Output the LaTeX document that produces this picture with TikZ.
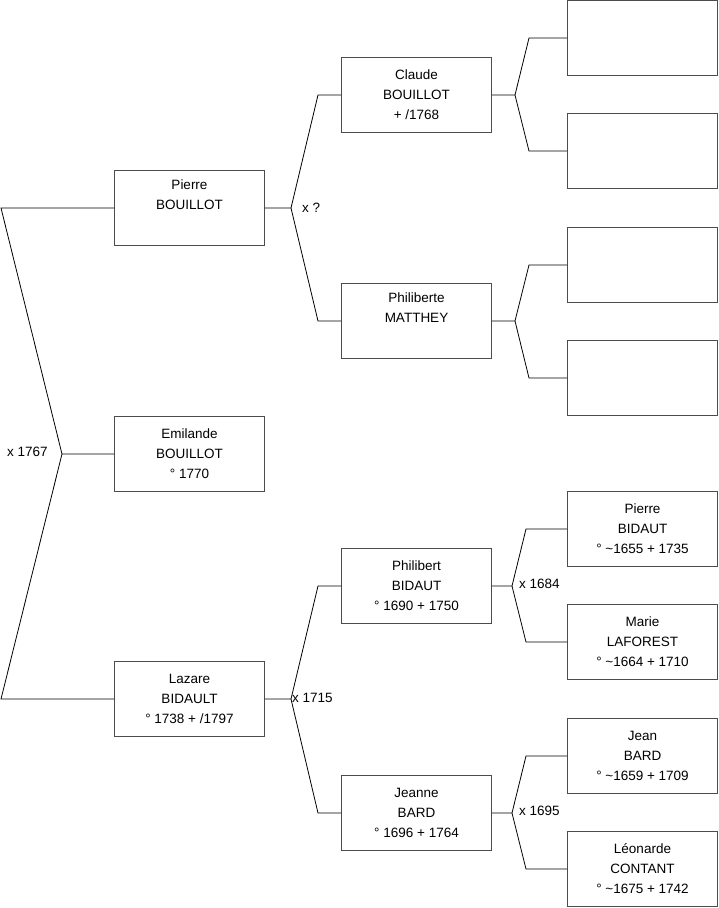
\documentclass[tikz,border=0pt]{standalone}
\usepackage{fontspec}
\setmainfont{Liberation Sans}
\usetikzlibrary{calc}

\begin{document}
\begin{tikzpicture}[
  x=1pt, y=-1pt,
  every node/.style={font=\fontsize{13.5}{20}\selectfont},
  person/.style={rectangle, draw=black!70, line width=0.9pt, minimum width=150, minimum height=75, align=center, inner sep=0pt},
  marriage/.style={anchor=west, inner sep=0pt},
  link/.style={draw, line width=0.8pt}
]
\useasboundingbox (0,0) rectangle (719,908);
% generation 1
\node[person] (pierre) at (189.5,208) {Pierre\\BOUILLOT\\\strut};
\node[person] (emilande) at (189.5,454) {Emilande\\BOUILLOT\\° 1770};
\node[person] (lazare) at (189.5,699) {Lazare\\BIDAULT\\° 1738 + /1797};
% generation 2
\node[person] (claude) at (416.5,95) {Claude\\BOUILLOT\\+ /1768};
\node[person] (philiberte) at (416.5,321) {Philiberte\\MATTHEY\\\strut};
\node[person] (philibert) at (416.5,586) {Philibert\\BIDAUT\\° 1690 + 1750};
\node[person] (jeanne) at (416.5,813) {Jeanne\\BARD\\° 1696 + 1764};
% generation 3
\node[person] (empty1) at (642.5,38) {};
\node[person] (empty2) at (642.5,151) {};
\node[person] (empty3) at (642.5,265) {};
\node[person] (empty4) at (642.5,378) {};
\node[person] (pierreb) at (642.5,529) {Pierre\\BIDAUT\\° \textasciitilde1655 + 1735};
\node[person] (marie) at (642.5,642) {Marie\\LAFOREST\\° \textasciitilde1664 + 1710};
\node[person] (jean) at (642.5,756) {Jean\\BARD\\° \textasciitilde1659 + 1709};
\node[person] (leonarde) at (642.5,869) {Léonarde\\CONTANT\\° \textasciitilde1675 + 1742};

% forks
\coordinate (v0) at (62,454);
\draw[link] (emilande.west) -- (v0) -- (1,208) -- (pierre.west);
\draw[link] (v0) -- (1,699) -- (lazare.west);
\node[marriage] (m0) at (7,452) {x 1767};

\foreach \child/\father/\mother/\vx/\bx in {pierre/claude/philiberte/291/318, lazare/philibert/jeanne/291/318,
    claude/empty1/empty2/515/529, philiberte/empty3/empty4/515/529,
    philibert/pierreb/marie/512/526, jeanne/jean/leonarde/512/526} {
  \coordinate (v-\child) at (\vx,0 |- \child.east);
  \draw[link] (\child.east) -- (v-\child) -- (\bx,0 |- \father.west) -- (\father.west);
  \draw[link] (v-\child) -- (\bx,0 |- \mother.west) -- (\mother.west);
}

\node[marriage] (m1) at (302,208) {x ?};
\node[marriage] (m2) at (292,698) {x 1715};
\node[marriage] (m3) at (519,584) {x 1684};
\node[marriage] (m4) at (519,811) {x 1695};
\end{tikzpicture}
\end{document}
